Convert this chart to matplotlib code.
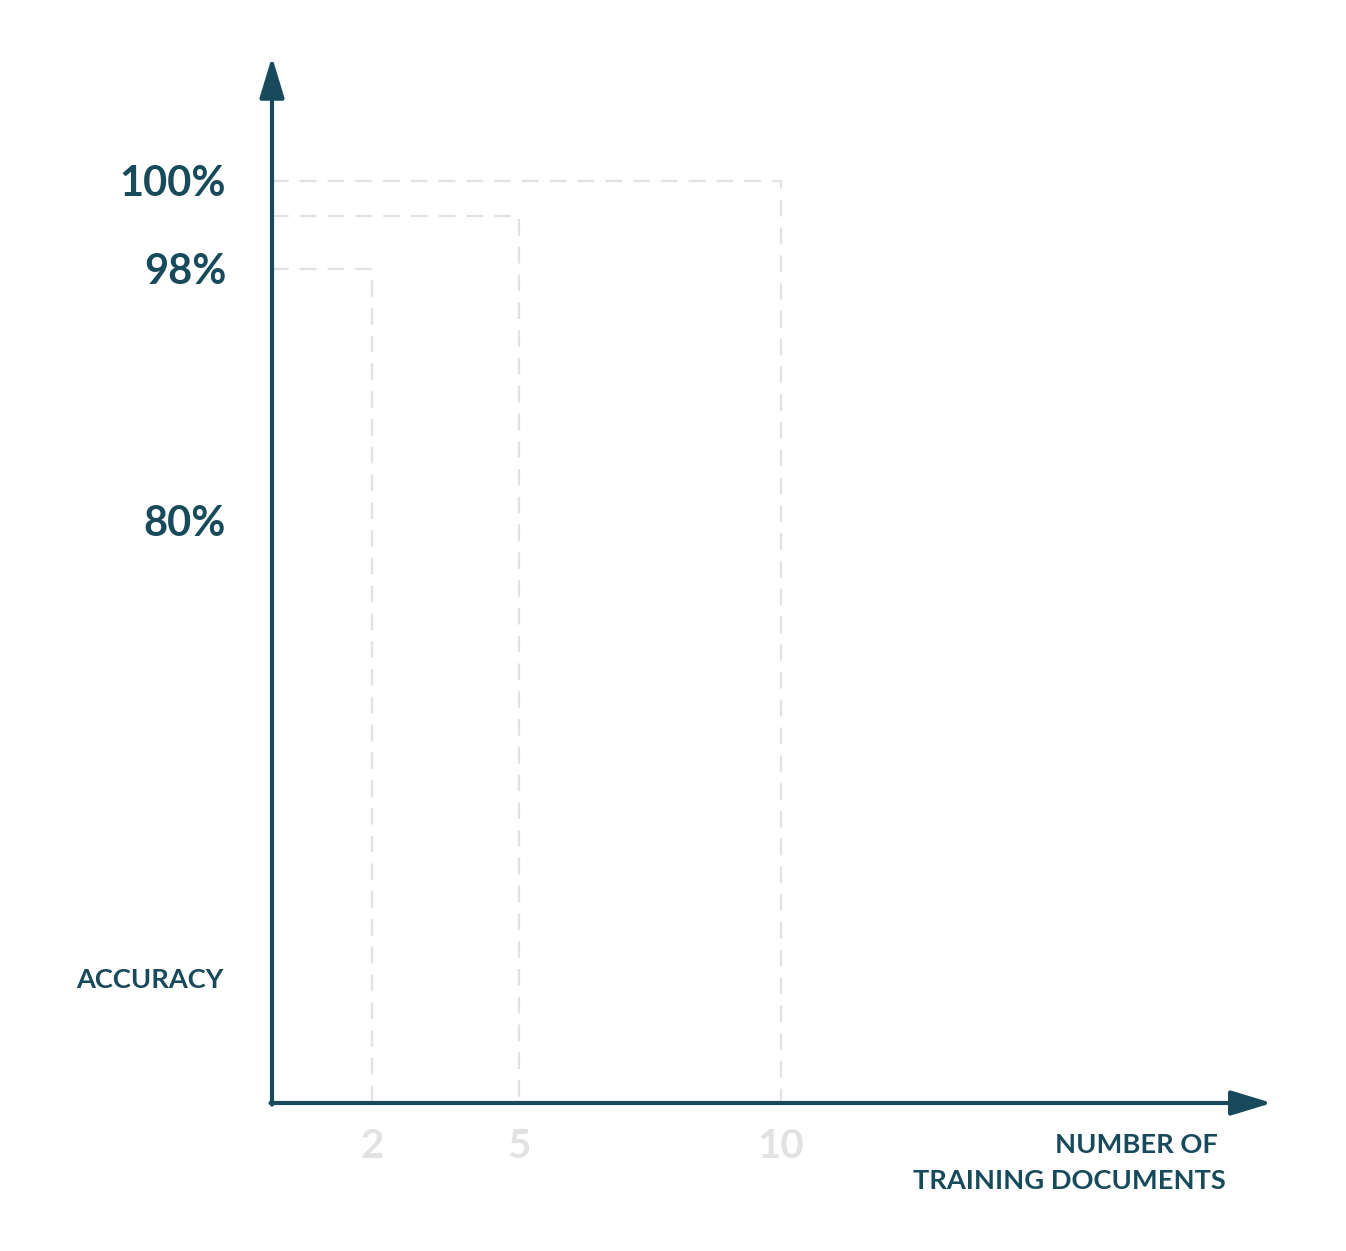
import numpy as np
import matplotlib
matplotlib.use("Agg")
import matplotlib.pyplot as plt

# data: number of training documents -> accuracy reached
docs = [2, 5, 10]
accuracy = [98, 99.2, 100]
ytick_vals = [100, 98, 80]
ytick_labels = ["100%", "98%", "80%"]
xtick_labels = ["2", "5", "10"]

dark = "#174a5b"
light = "#e2e2e2"

# the picture does not use a linear scale, so map values piecewise
y_anchor_val = [0, 80, 98, 100, 102.7]
y_anchor_pos = [0, 583, 834, 922, 1041]
x_anchor_val = [0, 2, 5, 10, 19.5]
x_anchor_pos = [0, 100, 247, 509, 994]


def yf(v):
    return np.interp(v, y_anchor_val, y_anchor_pos)


def yi(p):
    return np.interp(p, y_anchor_pos, y_anchor_val)


def xf(v):
    return np.interp(v, x_anchor_val, x_anchor_pos)


def xi(p):
    return np.interp(p, x_anchor_pos, x_anchor_val)


W, H = 1346, 1251
fig = plt.figure(figsize=(W / 100, H / 100), dpi=100)
ax = fig.add_axes([272 / W, (H - 1103) / H, (1266 - 272) / W, (1103 - 62) / H])
ax.set_yscale("function", functions=(yf, yi))
ax.set_xscale("function", functions=(xf, xi))
ax.set_xlim(0, 19.5)
ax.set_ylim(0, 102.7)

for d, a in zip(docs, accuracy):
    ax.plot([0, d, d], [a, a, 0], color=light, lw=1.6, ls=(0, (7.5, 5)), zorder=1)

# axes with arrow heads
arrow = dict(arrowstyle="-|>,head_length=1.25,head_width=0.38", color=dark,
             lw=3, shrinkA=0, shrinkB=0, mutation_scale=20)
ax.annotate("", xy=(0, 1.005), xytext=(0, -0.0015), xycoords="axes fraction", arrowprops=arrow)
ax.annotate("", xy=(1.006, 0), xytext=(-0.0015, 0), xycoords="axes fraction", arrowprops=arrow)

for s in ax.spines.values():
    s.set_visible(False)

font = "Lato"
ax.set_yticks(ytick_vals)
ax.set_yticklabels(ytick_labels, fontsize=30, fontweight="bold", color=dark, family=font)
ax.set_xticks(docs)
ax.set_xticklabels(xtick_labels, fontsize=29, fontweight="bold", color=light, family=font)
ax.tick_params(axis="y", length=0, pad=33)
ax.tick_params(axis="x", length=0, pad=18)
ax.set_facecolor("none")

fig.text(224 / W, 1 - 980 / H, "ACCURACY", ha="right", va="center",
         fontsize=19.6, fontweight="bold", color=dark, family=font)
fig.text(1218 / W, 1 - 1145 / H, "NUMBER OF", ha="right", va="center",
         fontsize=19.6, fontweight="bold", color=dark, family=font)
fig.text(1226 / W, 1 - 1181 / H, "TRAINING DOCUMENTS", ha="right", va="center",
         fontsize=19.6, fontweight="bold", color=dark, family=font)

fig.savefig("out.png", dpi=100, facecolor="white")
